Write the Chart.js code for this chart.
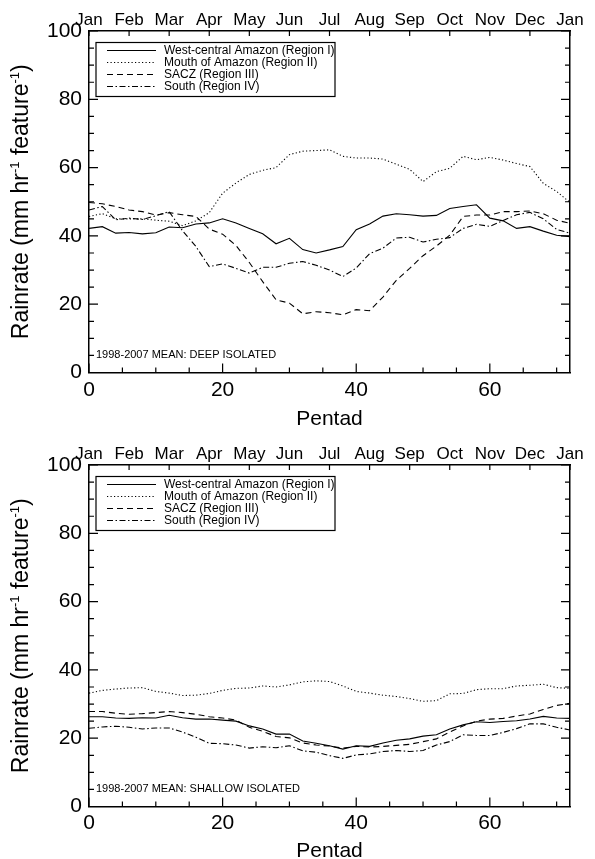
<!DOCTYPE html>
<html>
<head>
<meta charset="utf-8">
<script src="https://cdn.jsdelivr.net/npm/chart.js@4.4.1/dist/chart.umd.min.js"></script>
<style>
  html, body { margin: 0; padding: 0; background: #fff; overflow: hidden; }
  canvas { display: block; }
</style>
</head>
<body>
<canvas id="deep" width="595" height="434"></canvas>
<canvas id="shallow" width="595" height="430"></canvas>
<script>
// pentad positions (every second pentad) and month labels on the top axis
var pentads = [0,2,4,6,8,10,12,14,16,18,20,22,24,26,28,30,32,34,36,38,40,42,44,46,48,50,52,54,56,58,60,62,64,66,68,70,72];
var months = ['Jan','Feb','Mar','Apr','May','Jun','Jul','Aug','Sep','Oct','Nov','Dec','Jan'];
var regionNames = ['West-central Amazon (Region I)', 'Mouth of Amazon (Region II)', 'SACZ (Region III)', 'South (Region IV)'];

// deep isolated rainrate (mm/hr/feature)
var deepWest  = [42.2,42.7,40.8,41.0,40.6,40.9,42.6,42.4,43.5,43.8,45.0,43.8,42.2,40.6,37.7,39.3,36.0,35.0,35.9,36.9,41.8,43.5,45.8,46.5,46.2,45.8,46.0,48.0,48.6,49.1,45.2,44.4,42.2,42.7,41.4,40.2,39.8];
var deepMouth = [45.7,46.5,45.0,45.0,45.0,44.6,44.3,43.0,44.4,46.8,52.5,55.5,58.0,59.2,60.0,63.8,64.8,65.0,65.2,63.3,62.8,62.8,62.5,61.0,59.5,55.9,58.8,59.8,63.3,62.3,63.0,62.2,61.2,60.3,55.4,53.0,49.8];
var deepSacz  = [49.8,49.4,48.6,47.6,47.1,46.1,46.8,46.2,45.7,42.0,40.5,37.2,32.2,26.6,21.3,20.3,17.2,17.8,17.5,16.9,18.4,18.1,22.1,27.0,30.5,34.2,37.0,40.2,45.7,46.1,46.1,47.1,47.1,47.3,46.5,44.6,43.7];
var deepSouth = [47.6,48.6,44.7,45.2,44.8,45.9,47.1,41.5,36.9,31.0,31.8,30.5,29.1,30.8,30.8,32.0,32.5,31.4,30.0,28.1,30.6,34.8,36.4,39.4,39.6,38.2,39.0,39.5,42.2,43.4,42.8,44.5,46.2,46.9,45.0,41.9,40.8];

// shallow isolated rainrate (mm/hr/feature)
var shallowWest  = [26.3,26.3,25.9,25.8,26.0,25.9,26.7,26.0,25.6,25.6,25.3,25.0,23.6,22.7,21.2,21.2,19.2,18.5,17.8,16.8,17.8,17.6,18.6,19.4,19.8,20.6,21.0,22.7,23.9,24.8,24.6,24.9,25.1,25.6,26.4,25.9,25.8];
var shallowMouth = [33.2,34.0,34.4,34.7,34.8,33.7,33.2,32.5,32.6,33.1,34.0,34.6,34.7,35.3,35.0,35.6,36.5,36.8,36.6,35.3,33.7,33.2,32.6,32.2,31.6,30.8,31.0,33.0,33.1,34.2,34.5,34.5,35.3,35.5,35.8,34.8,34.6];
var shallowSacz  = [27.8,27.8,27.3,27.0,27.2,27.5,27.8,27.5,27.0,26.3,25.9,25.3,23.2,22.0,20.5,20.1,18.6,18.0,17.7,17.1,17.6,17.4,17.6,17.9,18.2,19.0,19.8,21.8,23.6,25.0,25.6,25.8,26.5,27.1,28.4,29.6,30.2];
var shallowSouth = [22.9,23.3,23.5,23.2,22.7,23.0,23.0,21.8,20.3,18.5,18.4,18.0,17.1,17.5,17.2,17.8,16.3,15.9,14.9,14.1,15.1,15.4,16.1,16.4,16.1,16.4,18.0,19.0,21.0,20.8,20.8,21.7,22.8,24.2,24.2,23.2,22.4];

var dashes = [[], [1.2, 2.3], [6, 4], [6, 2.5, 1.5, 2.5]];

Chart.defaults.font.family = "'Liberation Sans', Arial, Helvetica, sans-serif";
Chart.defaults.color = '#000';

// inward ticks, y title, legend box and caption
var idlFrame = {
    id: 'idlFrame',
    afterDraw: function(chart, args, opts) {
        var ctx = chart.ctx;
        var a = chart.chartArea;
        var x = chart.scales.x, y = chart.scales.y, xTop = chart.scales.xTop;
        ctx.save();
        ctx.strokeStyle = '#000';
        ctx.lineWidth = 1.2;
        ctx.setLineDash([]);
        ctx.beginPath();
        for (var v = 0; v <= 100; v += 5) {
            var py = y.getPixelForValue(v);
            var len = v % 20 === 0 ? 9 : 5;
            ctx.moveTo(a.left, py); ctx.lineTo(a.left + len, py);
            ctx.moveTo(a.right, py); ctx.lineTo(a.right - len, py);
        }
        for (var p = 0; p <= 70; p += 5) {
            var px = x.getPixelForValue(p);
            var l2 = p % 20 === 0 ? 9 : 5;
            ctx.moveTo(px, a.bottom); ctx.lineTo(px, a.bottom - l2);
        }
        xTop.ticks.forEach(function(t) {
            var tx = xTop.getPixelForValue(t.value);
            ctx.moveTo(tx, a.top); ctx.lineTo(tx, a.top + 5);
        });
        ctx.stroke();

        // y axis title with superscripts
        var parts = [['Rainrate (mm hr', false], ['-1', true], [' feature', false], ['-1', true], [')', false]];
        var big = "23px 'Liberation Sans', Arial, sans-serif";
        var small = "13px 'Liberation Sans', Arial, sans-serif";
        var total = 0;
        parts.forEach(function(pt) { ctx.font = pt[1] ? small : big; total += ctx.measureText(pt[0]).width; });
        ctx.translate(22, (a.top + a.bottom) / 2);
        ctx.rotate(-Math.PI / 2);
        ctx.fillStyle = '#000';
        ctx.textBaseline = 'middle';
        var cx = -total / 2;
        parts.forEach(function(pt) {
            ctx.font = pt[1] ? small : big;
            ctx.fillText(pt[0], cx, pt[1] ? -7 : 0);
            cx += ctx.measureText(pt[0]).width;
        });
        ctx.setTransform(1, 0, 0, 1, 0, 0);

        // legend box
        var bx = a.left + 7, by = a.top + 11.5;
        ctx.lineWidth = 1.2;
        ctx.strokeRect(bx, by, 239, 54);
        ctx.font = "12px 'Liberation Sans', Arial, sans-serif";
        ctx.textBaseline = 'middle';
        chart.data.datasets.forEach(function(ds, i) {
            var ly = by + 8 + i * 12;
            ctx.beginPath();
            ctx.lineWidth = 1.1;
            ctx.setLineDash(ds.borderDash);
            ctx.moveTo(bx + 11, ly); ctx.lineTo(bx + 60, ly);
            ctx.stroke();
            ctx.fillText(ds.label, bx + 68, ly);
        });
        ctx.setLineDash([]);

        // caption
        ctx.font = "11px 'Liberation Sans', Arial, sans-serif";
        ctx.fillText(opts.caption, a.left + 7, a.bottom - 17.5);
        ctx.restore();
    }
};

function makeChart(id, series, caption, bottomHeight, tickPad, titlePad) {
    var datasets = series.map(function(vals, i) {
        return {
            label: regionNames[i],
            data: vals.map(function(v, k) { return {x: pentads[k], y: v}; }),
            borderColor: '#000',
            borderWidth: 1.1,
            borderDash: dashes[i],
            pointRadius: 0,
            tension: 0,
            fill: false
        };
    });
    return new Chart(document.getElementById(id), {
        type: 'line',
        data: { datasets: datasets },
        plugins: [idlFrame],
        options: {
            responsive: false,
            animation: false,
            devicePixelRatio: 1,
            layout: { padding: 0, autoPadding: false },
            plugins: {
                legend: { display: false },
                tooltip: { enabled: false },
                idlFrame: { caption: caption }
            },
            scales: {
                x: {
                    type: 'linear', position: 'bottom', min: 0, max: 72,
                    grid: { display: false, drawTicks: false },
                    border: { display: true, color: '#000', width: 1.5 },
                    ticks: { stepSize: 20, includeBounds: false, font: { size: 21 }, padding: tickPad, maxRotation: 0 },
                    title: { display: true, text: 'Pentad', font: { size: 21, lineHeight: 1 }, padding: { top: 0, bottom: titlePad } },
                    afterFit: function(s) { s.height = bottomHeight; }
                },
                xTop: {
                    type: 'linear', position: 'top', min: 0, max: 72,
                    grid: { display: false, drawTicks: false },
                    border: { display: true, color: '#000', width: 1.5 },
                    ticks: { stepSize: 6, autoSkip: false, maxRotation: 0, font: { size: 17 }, padding: 0.5,
                        callback: function(v) { return months[Math.round(v / 6)]; } },
                    afterFit: function(s) { s.height = 31; }
                },
                y: {
                    type: 'linear', position: 'left', min: 0, max: 100,
                    grid: { display: false, drawTicks: false },
                    border: { display: true, color: '#000', width: 1.5 },
                    ticks: { stepSize: 20, font: { size: 21 }, padding: 7 },
                    afterFit: function(s) { s.width = 89; }
                },
                yRight: {
                    type: 'linear', position: 'right', min: 0, max: 100,
                    grid: { display: false, drawTicks: false },
                    border: { display: true, color: '#000', width: 1.5 },
                    ticks: { display: false },
                    afterFit: function(s) { s.width = 25; }
                }
            }
        }
    });
}

makeChart('deep', [deepWest, deepMouth, deepSacz, deepSouth], '1998-2007 MEAN: DEEP ISOLATED', 61.5, 5, 4.5);
makeChart('shallow', [shallowWest, shallowMouth, shallowSacz, shallowSouth], '1998-2007 MEAN: SHALLOW ISOLATED', 57.5, 4, 2.5);
</script>
</body>
</html>
